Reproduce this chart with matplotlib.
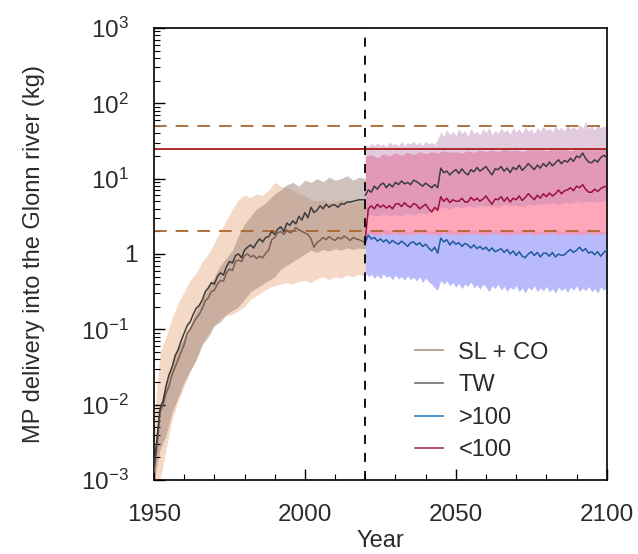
import numpy as np
import matplotlib.pyplot as plt
from matplotlib.ticker import FixedLocator, FixedFormatter, NullFormatter

plt.rcParams['font.family'] = ['Liberation Sans', 'DejaVu Sans']
plt.rcParams['mathtext.fontset'] = 'custom'
plt.rcParams['mathtext.rm'] = 'Liberation Sans'
plt.rcParams['mathtext.it'] = 'Liberation Sans:italic'
plt.rcParams['text.color'] = '#2b2b2b'
plt.rcParams['axes.labelcolor'] = '#2b2b2b'
plt.rcParams['xtick.labelcolor'] = '#2b2b2b'
plt.rcParams['ytick.labelcolor'] = '#2b2b2b'

# ---- data (log10 of kg) ----
hist_years = np.arange(1950, 2021)
fut_years = np.arange(2020, 2101)
hist_band_years = np.arange(1950, 2021, 2)
fut_band_years = np.arange(2020, 2101, 2)

tw_hist = [-2.85, -2.45, -2.05, -1.95, -1.75, -1.6, -1.5, -1.35, -1.27, -1.15,
           -1.05, -0.95, -0.9, -0.8, -0.72, -0.68, -0.61, -0.5, -0.45, -0.38,
           -0.4, -0.3, -0.25, -0.28, -0.17, -0.1, -0.12, -0.02, 0.0, -0.05,
           0.05, 0.09, 0.12, 0.08, 0.15, 0.2, 0.16, 0.22, 0.23, 0.3,
           0.26, 0.33, 0.36, 0.3, 0.41, 0.38, 0.44, 0.4, 0.5, 0.45,
           0.55, 0.48, 0.62, 0.55, 0.58, 0.64, 0.6, 0.66, 0.62, 0.65,
           0.65, 0.62, 0.67, 0.66, 0.69, 0.69, 0.7, 0.71, 0.72, 0.72,
           0.72]

slco_hist = [-2.9, -2.55, -2.1, -2.0, -1.85, -1.75, -1.6, -1.5, -1.4, -1.3,
             -1.2, -1.05, -1.0, -0.92, -0.85, -0.8, -0.72, -0.62, -0.58, -0.5,
             -0.48, -0.4, -0.35, -0.36, -0.25, -0.2, -0.22, -0.1, -0.08, -0.1,
             -0.02, 0.0, -0.04, -0.02, -0.06, -0.03, -0.05, 0.01, 0.05, 0.19,
             0.22, 0.28, 0.3, 0.26, 0.32, 0.28, 0.3, 0.35, 0.32, 0.3,
             0.28, 0.26, 0.2, 0.09, 0.15, 0.18, 0.22, 0.19, 0.23, 0.2,
             0.18, 0.22, 0.2, 0.24, 0.21, 0.18, 0.22, 0.2, 0.19, 0.17,
             0.15]

tw_fut = [0.78, 0.85, 0.82, 0.9, 0.86, 0.92, 0.94, 0.88, 0.93, 0.89,
          0.95, 0.92, 0.97, 0.93, 0.95, 0.92, 0.98, 0.96, 0.93, 0.9,
          0.94, 0.91, 0.88, 0.92, 0.88, 1.14, 1.08, 1.1, 1.05, 1.09,
          1.12, 1.07, 1.13, 1.08, 1.05, 1.12, 1.09, 1.15, 1.1, 1.13,
          1.16, 1.1, 1.05, 1.13, 1.12, 1.16, 1.1, 1.14, 1.08, 1.15,
          1.12, 1.18, 1.11, 1.15, 1.2, 1.16, 1.12, 1.18, 1.14, 1.2,
          1.16, 1.22, 1.17, 1.21, 1.25, 1.2, 1.24, 1.22, 1.27, 1.23,
          1.3, 1.28, 1.34, 1.27, 1.22, 1.21, 1.25, 1.22, 1.28, 1.31,
          1.28]

lt100_fut = [0.19, 0.6, 0.64, 0.6, 0.66, 0.62, 0.65, 0.61, 0.64, 0.6,
             0.66, 0.67, 0.63, 0.68, 0.64, 0.62, 0.67, 0.65, 0.6, 0.63,
             0.66, 0.6, 0.56, 0.62, 0.58, 0.76, 0.7, 0.74, 0.68, 0.72,
             0.7, 0.7, 0.74, 0.69, 0.69, 0.75, 0.71, 0.74, 0.7, 0.73,
             0.77, 0.71, 0.66, 0.73, 0.72, 0.76, 0.7, 0.75, 0.69, 0.74,
             0.72, 0.77, 0.71, 0.75, 0.8, 0.76, 0.72, 0.78, 0.74, 0.8,
             0.76, 0.81, 0.77, 0.8, 0.85, 0.8, 0.84, 0.85, 0.88, 0.84,
             0.9, 0.88, 0.92, 0.86, 0.82, 0.82, 0.86, 0.83, 0.87, 0.89,
             0.9]

gt100_fut = [0.15, 0.25, 0.2, 0.22, 0.17, 0.2, 0.16, 0.19, 0.14, 0.18,
             0.15, 0.13, 0.17, 0.14, 0.1, 0.15, 0.16, 0.12, 0.15, 0.1,
             0.13, 0.08, 0.04, 0.09, 0.01, 0.21, 0.16, 0.19, 0.12, 0.17,
             0.13, 0.15, 0.1, 0.14, 0.12, 0.08, 0.12, 0.07, 0.1, 0.06,
             0.09, 0.04, 0.08, 0.03, 0.05, 0.07, 0.02, 0.06, 0.0, 0.04,
             -0.02, 0.03, -0.03, -0.05, 0.0, 0.03, -0.02, 0.02, -0.04, 0.01,
             0.01, -0.03, 0.02, -0.04, 0.0, -0.02, -0.01, 0.03, 0.06, 0.02,
             0.05, 0.09, 0.04, 0.07, 0.01, 0.03, -0.01, 0.03, -0.03, 0.02,
             0.05]

# historical uncertainty bands (every 2 years)
slco_hist_hi = [-2.2, -1.3, -1.1, -0.85, -0.65, -0.5, -0.35, -0.25, -0.1, 0.0,
                0.15, 0.3, 0.45, 0.6, 0.72, 0.78, 0.75, 0.8, 0.78, 0.85,
                0.95, 0.9, 0.88, 0.85, 0.8, 0.78, 0.72, 0.7, 0.72, 0.68,
                0.7, 0.72, 0.7, 0.68, 0.7, 0.68]
slco_hist_lo = [-3.0, -3.0, -2.6, -2.2, -1.95, -1.75, -1.55, -1.4, -1.2, -1.05,
                -0.95, -0.85, -0.82, -0.8, -0.75, -0.7, -0.6, -0.55, -0.5, -0.45,
                -0.42, -0.4, -0.38, -0.4, -0.36, -0.35, -0.38, -0.33, -0.3, -0.34,
                -0.3, -0.32, -0.28, -0.3, -0.27, -0.3]
tw_hist_hi = [-2.6, -2.0, -1.7, -1.45, -1.25, -1.1, -0.95, -0.75, -0.6, -0.45,
              -0.3, -0.15, -0.05, 0.05, 0.25, 0.4, 0.5, 0.6, 0.65, 0.72,
              0.8, 0.85, 0.92, 0.95, 0.9, 0.98, 0.95, 1.0, 0.96, 1.02,
              0.98, 1.0, 1.04, 0.98, 1.02, 1.0]
tw_hist_lo = [-3.0, -2.6, -2.4, -2.1, -1.9, -1.7, -1.55, -1.4, -1.2, -1.1,
              -0.95, -0.9, -0.8, -0.75, -0.7, -0.6, -0.5, -0.45, -0.4, -0.35,
              -0.3, -0.2, -0.15, -0.1, -0.05, 0.0, 0.05, 0.02, 0.06, 0.04,
              0.07, 0.05, 0.08, 0.06, 0.08, 0.07]

# future bands
tw_fut_hi = [1.45, 1.42, 1.47, 1.43, 1.48, 1.44, 1.46, 1.42, 1.49, 1.45,
             1.47, 1.43, 1.5, 1.44, 1.48, 1.46, 1.5, 1.45, 1.49, 1.44,
             1.5, 1.46, 1.48, 1.45, 1.52, 1.62, 1.56, 1.65, 1.58, 1.63,
             1.57, 1.66, 1.6, 1.64, 1.56, 1.67, 1.6, 1.63, 1.58, 1.66,
             1.61, 1.68, 1.58, 1.64, 1.6, 1.67, 1.62, 1.65, 1.59, 1.68,
             1.62, 1.66, 1.6, 1.69, 1.63, 1.66, 1.6, 1.68, 1.63, 1.7,
             1.64, 1.67, 1.62, 1.7, 1.65, 1.68, 1.63, 1.71, 1.66, 1.69,
             1.65, 1.72, 1.67, 1.76, 1.66, 1.7, 1.65, 1.72, 1.67, 1.7,
             1.68]
tw_fut_lo = [0.5, 0.52, 0.5, 0.53, 0.51, 0.52, 0.5, 0.54, 0.52, 0.55,
             0.53, 0.56, 0.6, 0.62, 0.6, 0.63, 0.61, 0.64, 0.62, 0.65,
             0.63, 0.64, 0.62, 0.66, 0.64, 0.65, 0.63, 0.66, 0.65, 0.67,
             0.66, 0.68, 0.66, 0.69, 0.67, 0.7, 0.68, 0.7, 0.69, 0.7,
             0.7]
lt100_fut_hi = [1.3, 1.32, 1.28, 1.33, 1.3, 1.34, 1.31, 1.35, 1.32, 1.36,
                1.33, 1.36, 1.34, 1.37, 1.35, 1.36, 1.34, 1.37, 1.35, 1.38,
                1.36, 1.38, 1.36, 1.39, 1.37, 1.38, 1.36, 1.39, 1.38, 1.39,
                1.37, 1.39, 1.38, 1.39, 1.37, 1.39, 1.38, 1.39, 1.38, 1.39,
                1.38]
lt100_fut_lo = [0.26, 0.27, 0.25, 0.27, 0.26, 0.28, 0.25, 0.27, 0.26, 0.28,
                0.26, 0.27, 0.25, 0.28, 0.26, 0.27, 0.25, 0.28, 0.26, 0.27,
                0.25, 0.28, 0.26, 0.27, 0.25, 0.27, 0.26, 0.28, 0.25, 0.27,
                0.26, 0.28, 0.25, 0.27, 0.26, 0.27, 0.25, 0.28, 0.26, 0.27,
                0.26]
gt100_fut_hi = [0.3, 0.32, 0.3, 0.33, 0.31, 0.3, 0.32, 0.3, 0.31, 0.3,
                0.32, 0.3, 0.31, 0.3, 0.32, 0.3, 0.31, 0.3, 0.32, 0.3,
                0.31, 0.3, 0.32, 0.3, 0.31, 0.3, 0.32, 0.3, 0.31, 0.3,
                0.32, 0.3, 0.31, 0.3, 0.32, 0.3, 0.31, 0.3, 0.32, 0.3,
                0.31]
gt100_fut_lo = [-0.25, -0.3, -0.27, -0.32, -0.28, -0.33, -0.26, -0.31, -0.29, -0.34,
                -0.28, -0.33, -0.3, -0.35, -0.29, -0.34, -0.31, -0.36, -0.3, -0.38,
                -0.32, -0.37, -0.4, -0.45, -0.48, -0.35, -0.4, -0.36, -0.42, -0.38,
                -0.44, -0.39, -0.46, -0.4, -0.43, -0.37, -0.45, -0.41, -0.47, -0.4,
                -0.44, -0.5, -0.42, -0.46, -0.4, -0.48, -0.43, -0.5, -0.44, -0.47,
                -0.42, -0.5, -0.45, -0.52, -0.44, -0.48, -0.42, -0.5, -0.45, -0.49,
                -0.43, -0.5, -0.46, -0.52, -0.44, -0.49, -0.45, -0.51, -0.44, -0.48,
                -0.42, -0.5, -0.45, -0.49, -0.43, -0.5, -0.46, -0.52, -0.44, -0.48,
                -0.45]

# reference levels (kg)
upper_dash = 50
lower_dash = 2
ref_line = 25
split_year = 2020


def kg(v):
    return 10.0 ** np.asarray(v)


fig = plt.figure(figsize=(6.38, 5.54), dpi=100)
ax = fig.add_axes([0.2414, 0.1336, 0.7096, 0.8159])
ax.set_yscale('log')

# bands
ax.fill_between(hist_band_years, kg(slco_hist_lo), kg(slco_hist_hi),
                color='#f2cdb5', alpha=0.75, lw=0, zorder=1)
ax.fill_between(hist_band_years, kg(tw_hist_lo), kg(tw_hist_hi),
                color='#a08478', alpha=0.5, lw=0, zorder=1)
ax.fill_between(fut_years, kg(gt100_fut_lo), kg(np.interp(fut_years, fut_band_years, gt100_fut_hi)),
                color='#acaefc', alpha=0.85, lw=0, zorder=1)
ax.fill_between(fut_band_years, kg(lt100_fut_lo), kg(lt100_fut_hi),
                color='#ff90a8', alpha=0.8, lw=0, zorder=1)
ax.fill_between(fut_years, kg(np.interp(fut_years, fut_band_years, tw_fut_lo)), kg(tw_fut_hi),
                color='#bf8ab8', alpha=0.45, lw=0, zorder=1)

# reference lines
ax.axhline(upper_dash, color='#a8672e', lw=1.3, ls=(0, (7, 5)), zorder=2)
ax.axhline(lower_dash, color='#a8672e', lw=1.3, ls=(0, (7, 5)), zorder=2)
ax.axhline(ref_line, color='#b02828', lw=1.4, zorder=2)

# series
ax.plot(hist_years, kg(slco_hist), color='#7e5e4e', lw=1.1, zorder=3)
ax.plot(hist_years, kg(tw_hist), color='#3c3c3c', lw=1.1, zorder=3)
ax.plot(fut_years, kg(tw_fut), color='#3c3c3c', lw=1.1, zorder=3)
ax.plot(fut_years, kg(gt100_fut), color='#1f5a9c', lw=1.1, zorder=3)
ax.plot(fut_years, kg(lt100_fut), color='#9a1040', lw=1.1, zorder=3)

ax.axvline(split_year, color='black', lw=1.3, ls=(0, (5, 5)), zorder=4)

# legend with proxy lines
legend_items = ['SL + CO', 'TW', '>100', '<100']
legend_colors = ['#b09080', '#707070', '#3080c0', '#a03060']
handles = [plt.Line2D([], [], color=c, lw=1.2) for c in legend_colors]
ax.legend(handles, legend_items, loc='lower left', bbox_to_anchor=(0.55, 0.015),
          frameon=False, fontsize=17, handlelength=1.2, handletextpad=0.65,
          labelspacing=0.45, borderpad=0)

# axes
ax.set_xlim(1950, 2100)
ax.set_ylim(1e-3, 1e3)
ax.set_xticks([1950, 2000, 2050, 2100])
ax.set_xticks(np.arange(1950, 2101, 10), minor=True)
ax.yaxis.set_major_locator(FixedLocator([1e-3, 1e-2, 1e-1, 1, 1e1, 1e2, 1e3]))
ax.yaxis.set_major_formatter(FixedFormatter(['$10^{-3}$  ', '$10^{-2}$  ', '$10^{-1}$  ', '1',
                                             '$10^{1}$  ', '$10^{2}$  ', '$10^{3}$  ']))
minor_y = [m * 10.0 ** e for e in range(-3, 3) for m in range(2, 10)]
ax.yaxis.set_minor_locator(FixedLocator(minor_y))
ax.yaxis.set_minor_formatter(NullFormatter())
ax.tick_params(which='both', direction='in', labelsize=17.5, top=False, right=False)
ax.tick_params(which='major', length=8, width=1.0)
ax.tick_params(which='minor', length=4.5, width=0.8)
ax.tick_params(axis='x', pad=17)
ax.tick_params(axis='y', pad=12)
for s in ax.spines.values():
    s.set_linewidth(1.2)

ax.set_xlabel('Year', fontsize=17, labelpad=3)
ax.set_ylabel('MP delivery into the Glonn river (kg)', fontsize=17, labelpad=26)

fig.savefig('out.png', dpi=100)
